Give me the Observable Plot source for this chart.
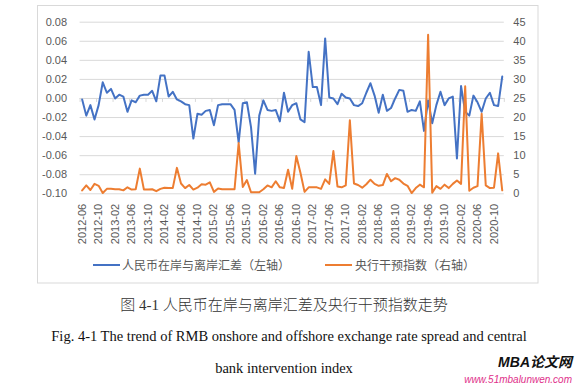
<!DOCTYPE html>
<html><head><meta charset="utf-8">
<script src="https://cdn.jsdelivr.net/npm/d3@7"></script>
<script src="https://cdn.jsdelivr.net/npm/@observablehq/plot@0.6"></script>
<style>
body{margin:0;background:#fff;}
#wrap{position:relative;width:576px;height:384px;overflow:hidden;background:#fff;}
#chart{position:absolute;left:0;top:0;}
#over{position:absolute;left:0;top:0;pointer-events:none;}
</style></head><body>
<div id="wrap"><div id="chart"></div>
<svg id="over" width="576" height="384" xmlns="http://www.w3.org/2000/svg">
  <rect x="37.5" y="5.5" width="500.5" height="277.5" fill="none" stroke="#d9d9d9" stroke-width="1"/>
  <g id="legend" font-family="'Noto Sans CJK SC', sans-serif" font-size="12" fill="#595959"></g>
  <g id="captions"></g>
</svg></div>
<script>
// Monthly categories 2012-06 .. 2020-12
const months = d3.utcMonths(new Date(Date.UTC(2012, 5, 1)), new Date(Date.UTC(2021, 0, 1))).map(d3.utcFormat("%Y-%m"));

// 人民币在岸与离岸汇差（左轴）
const spread = [
  -0.001, -0.018, -0.007, -0.022, -0.007, 0.017, 0.006, 0.010, 0.000, 0.004,
   0.002, -0.014, -0.002, -0.004, 0.003, 0.004, 0.004, 0.008, -0.003, 0.024,
   0.024, 0.002, 0.007, -0.001, -0.003, -0.006, -0.007, -0.042, -0.016, -0.017,
  -0.013, -0.012, -0.028, -0.007, -0.006, -0.006, -0.006, -0.012, -0.046, -0.005,
  -0.004, -0.030, -0.079, -0.018, -0.002, -0.012, -0.013, -0.012, -0.024, 0.006,
  -0.014, -0.007, -0.005, -0.022, -0.025, 0.049, 0.012, 0.012, -0.007, 0.063,
   0.001, 0.000, -0.006, 0.005, 0.001, 0.000, -0.007, -0.008, -0.005, 0.006,
   0.016, 0.003, -0.015, 0.004, -0.013, -0.010, 0.000, 0.009, 0.008, -0.014,
  -0.012, -0.013, -0.003, -0.034, -0.002, -0.026, -0.007, 0.007, -0.007, 0.000,
   0.002, -0.063, 0.013, -0.014, -0.018, 0.003, -0.004, -0.014, 0.000, 0.006,
  -0.007, -0.008, 0.023
];

// 央行干预指数（右轴）
const intervention = [
  0.9, 2.2, 1.0, 2.6, 2.1, 0.2, 1.3, 1.3, 1.2, 1.2,
  0.9, 1.7, 1.1, 1.2, 6.6, 1.1, 1.1, 1.2, 0.7, 1.3,
  1.6, 1.5, 1.5, 6.8, 2.7, 1.5, 2.3, 1.1, 1.6, 2.5,
  2.4, 3.0, 0.5, 1.4, 1.2, 1.2, 1.2, 1.2, 13.3, 1.8,
  3.6, 0.4, 0.4, 0.4, 1.2, 2.2, 1.7, 3.3, 1.7, 1.5,
  6.3, 1.3, 9.9, 5.5, 0.5, 1.7, 1.7, 1.7, 1.3, 3.8,
  2.6, 11.2, 1.9, 1.7, 2.2, 19.3, 2.7, 2.3, 1.6, 2.5,
  3.7, 2.6, 2.1, 2.3, 5.2, 3.3, 4.1, 3.7, 2.7, 2.1,
  0.2, 1.5, 2.4, 1.7, 41.7, 0.3, 2.0, 1.3, 2.4, 1.5,
  2.6, 3.5, 2.6, 28.2, 0.8, 1.6, 2.0, 21.0, 2.2, 1.5,
  1.6, 10.6, 0.9
];

const leftTicks = [-0.10, -0.08, -0.06, -0.04, -0.02, 0.00, 0.02, 0.04, 0.06, 0.08];
const rightTicks = [0, 5, 10, 15, 20, 25, 30, 35, 40, 45];
const labelStep = 4;
const seriesNames = ["人民币在岸与离岸汇差（左轴）", "央行干预指数（右轴）"];
const colors = ["#4472C4", "#ED7D31"];

const L0 = leftTicks[0], L1 = leftTicks[leftTicks.length - 1];
const R0 = rightTicks[0], R1 = rightTicks[rightTicks.length - 1];
const toLeft = v => L0 + (v - R0) * (L1 - L0) / (R1 - R0);
const toRight = y => (y - L0) * (R1 - R0) / (L1 - L0) + R0;

const rows = months.map((m, i) => ({i, m, s: spread[i], v: intervention[i], vy: toLeft(intervention[i])}));
const labelIdx = d3.range(0, months.length, labelStep).filter(i => i < months.length - 2);

const plot = Plot.plot({
  width: 576, height: 250,
  marginLeft: 79.6, marginRight: 72.2, marginTop: 21.7, marginBottom: 56.7,
  style: {fontFamily: "'Liberation Sans', Arial, sans-serif", fontSize: "11px", color: "#595959", background: "transparent"},
  x: {type: "linear", domain: [-0.5, months.length - 0.5], axis: null, label: null},
  y: {domain: [L0, L1], axis: null, label: null},
  marks: [
    Plot.gridY(leftTicks, {stroke: "#d9d9d9", strokeOpacity: 1, strokeWidth: 1}),
    Plot.ruleY([0], {stroke: "#d9d9d9", strokeWidth: 1}),
    Plot.ruleX(labelIdx.concat([months.length]), {x: d => d - 0.5, y1: 0, y2: 0, insetBottom: -4, stroke: "#d9d9d9"}),
    Plot.line(rows, {x: "i", y: "s", stroke: colors[0], strokeWidth: 2, strokeLinejoin: "round", strokeLinecap: "round"}),
    Plot.line(rows, {x: "i", y: "vy", stroke: colors[1], strokeWidth: 2, strokeLinejoin: "round", strokeLinecap: "round"}),
    Plot.axisY(leftTicks, {anchor: "left", label: null, tickSize: 0, tickPadding: 13, tickFormat: d => d.toFixed(2), fill: "#595959"}),
    Plot.axisY(rightTicks.map(toLeft), {anchor: "right", label: null, tickSize: 0, tickPadding: 9, tickFormat: d => String(Math.round(toRight(d))), fill: "#595959"}),
    Plot.axisX(labelIdx, {anchor: "bottom", label: null, tickSize: 0, tickPadding: 10, tickRotate: -90, tickFormat: i => months[i], fill: "#595959"})
  ]
});
document.getElementById("chart").appendChild(plot);

// legend
const ns = "http://www.w3.org/2000/svg";
const lg = document.getElementById("legend");
const legendPos = [{x: 93, tx: 122}, {x: 325, tx: 355}];
seriesNames.forEach((name, k) => {
  const ln = document.createElementNS(ns, "line");
  ln.setAttribute("x1", legendPos[k].x); ln.setAttribute("x2", legendPos[k].x + 27);
  ln.setAttribute("y1", 265); ln.setAttribute("y2", 265);
  ln.setAttribute("stroke", colors[k]); ln.setAttribute("stroke-width", 2);
  lg.appendChild(ln);
  const t = document.createElementNS(ns, "text");
  t.setAttribute("x", legendPos[k].tx); t.setAttribute("y", 269.5);
  t.textContent = name;
  lg.appendChild(t);
});

// captions
const caps = [
  {text: "图 4-1 人民币在岸与离岸汇差及央行干预指数走势", x: 284, y: 309.5, size: 15, family: "'Liberation Serif', 'Noto Sans CJK SC', serif", fill: "#333", weight: "300"},
  {text: "Fig. 4-1 The trend of RMB onshore and offshore exchange rate spread and central", x: 289, y: 341, size: 14.5, family: "'Liberation Serif', serif", fill: "#111", weight: "normal"},
  {text: "bank intervention index", x: 284, y: 373, size: 14.5, family: "'Liberation Serif', serif", fill: "#111", weight: "normal"}
];
const cg = document.getElementById("captions");
caps.forEach(c => {
  const t = document.createElementNS(ns, "text");
  t.setAttribute("x", c.x); t.setAttribute("y", c.y);
  t.setAttribute("text-anchor", "middle");
  t.setAttribute("font-size", c.size);
  t.setAttribute("font-weight", c.weight);
  t.setAttribute("font-family", c.family);
  t.setAttribute("fill", c.fill);
  t.textContent = c.text;
  cg.appendChild(t);
});
// watermark
const wm = [
  {text: "MBA论文网", x: 572, y: 367, size: 14, weight: "bold", style: "italic", fill: "#111", family: "'Liberation Sans', 'Noto Sans CJK SC', sans-serif"},
  {text: "www.51mbalunwen.com", x: 572, y: 383, size: 10, weight: "normal", style: "italic", fill: "#e0308a", family: "'Liberation Sans', sans-serif"}
];
wm.forEach(c => {
  const t = document.createElementNS(ns, "text");
  t.setAttribute("x", c.x); t.setAttribute("y", c.y);
  t.setAttribute("text-anchor", "end");
  t.setAttribute("font-size", c.size);
  t.setAttribute("font-weight", c.weight);
  t.setAttribute("font-style", c.style);
  t.setAttribute("font-family", c.family);
  t.setAttribute("fill", c.fill);
  t.textContent = c.text;
  cg.appendChild(t);
});
</script>
</body></html>
